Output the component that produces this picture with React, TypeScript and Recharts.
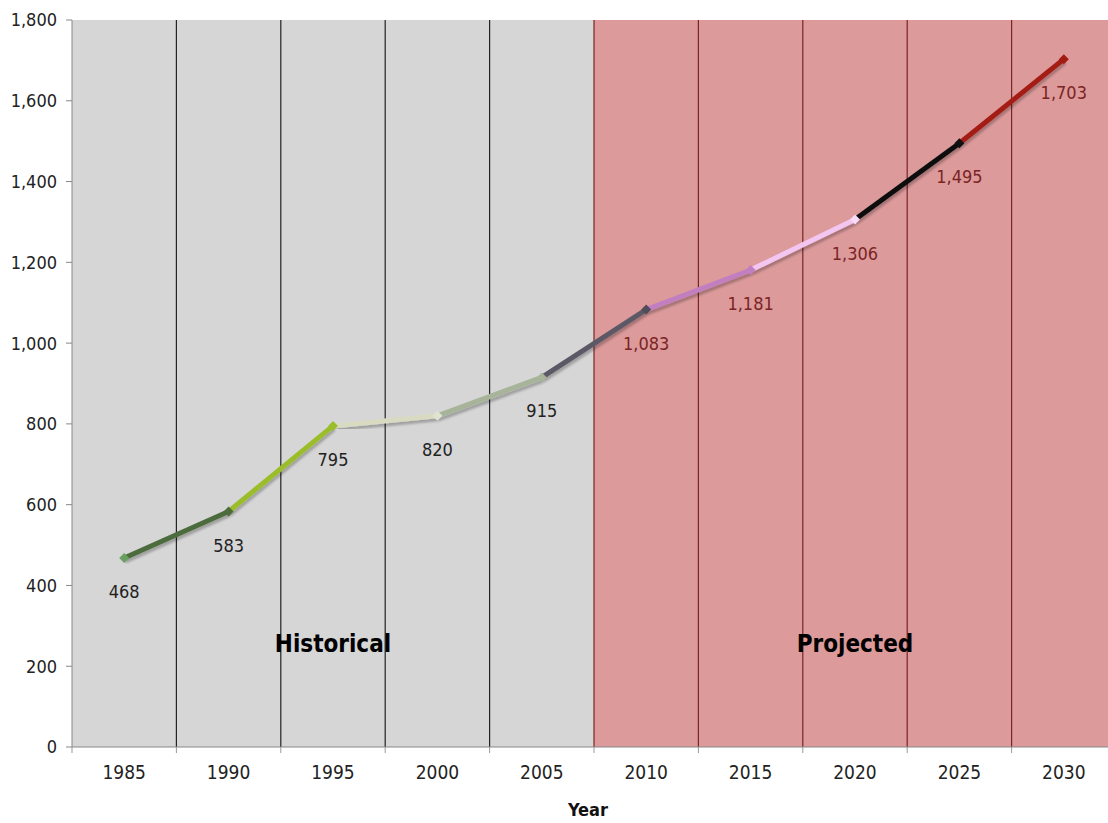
import {
  LineChart, Line, XAxis, YAxis, ReferenceArea, ReferenceLine, LabelList,
} from "recharts";

const YEARS = ["1985", "1990", "1995", "2000", "2005", "2010", "2015", "2020", "2025", "2030"];
const VALUES = [468, 583, 795, 820, 915, 1083, 1181, 1306, 1495, 1703];
const Y_TICKS = [0, 200, 400, 600, 800, 1000, 1200, 1400, 1600, 1800];
const HISTORICAL = ["1985", "2005"];
const PROJECTED = ["2010", "2030"];

// one colour per segment (segment i joins point i and i+1)
const SEGMENT_COLORS = ["#4d6c3c", "#9bbd2c", "#d8dbc2", "#a7b49a", "#5b5966", "#c27fc0", "#f3c6f1", "#111111", "#a31c12"];
const MARKER_COLORS = ["#69a060", "#4d6c3c", "#9bbd2c", "#e0e3cd", "#a7b49a", "#4f4d59", "#c27fc0", "#f8dbf6", "#111111", "#a31c12"];

const FONT = "'DejaVu Sans Condensed', 'DejaVu Sans', sans-serif";
const GREY_BG = "#d6d6d6";
const PINK_BG = "#dc9a9b";
const DARK_RED = "#7a2424";

const data = YEARS.map((year, i) => {
  const row: Record<string, number | string | null> = { year, value: VALUES[i] };
  SEGMENT_COLORS.forEach((_, s) => {
    row[`s${s}`] = i === s || i === s + 1 ? VALUES[i] : null;
  });
  return row;
});

const fmt = (v: number) => v.toLocaleString("en-US");

function XTick(props: any) {
  const { x, y, payload } = props;
  const off = payload.offset ?? 0;
  const top = y - 8;
  return (
    <g>
      <line x1={x - off} x2={x - off} y1={top} y2={top + 6} stroke="#999" />
      <text x={x} y={y + 24} textAnchor="middle" fontSize={19} fill="#222" fontFamily={FONT}>
        {payload.value}
      </text>
    </g>
  );
}

function Diamond(props: any) {
  const { cx, cy, index } = props;
  if (cx == null || cy == null) return <g key={`d${index}`} />;
  const r = 5;
  return (
    <polygon
      key={`d${index}`}
      points={`${cx},${cy - r} ${cx + r},${cy} ${cx},${cy + r} ${cx - r},${cy}`}
      fill={MARKER_COLORS[index]}
    />
  );
}

function ValueLabel(props: any) {
  const { x, y, value, index } = props;
  return (
    <text x={x} y={y + 40} textAnchor="middle" fontSize={18} fontFamily={FONT} fill={index < 5 ? "#222" : DARK_RED}>
      {fmt(value)}
    </text>
  );
}

export default function App() {
  return (
    <div style={{ position: "absolute", left: 0, top: 0, width: 1108, height: 823, overflow: "hidden", background: "#fff" }}>
      <LineChart width={1116} height={823} data={data} margin={{ top: 20, right: 0, bottom: 0, left: 0 }}>
        <defs>
          <filter id="lineShadow" x="-10%" y="-10%" width="120%" height="140%">
            <feDropShadow dx="1" dy="3" stdDeviation="1" floodColor="#000" floodOpacity="0.25" />
          </filter>
        </defs>
        <XAxis
          dataKey="year"
          scale="band"
          height={76}
          tick={<XTick />}
          tickLine={false}
          axisLine={{ stroke: "#888" }}
          interval={0}
          label={{ value: "Year", position: "insideBottom", offset: 7, dx: -6, fontSize: 18, fontWeight: 700, fill: "#111", fontFamily: FONT }}
        />
        <YAxis
          width={72}
          domain={[0, 1800]}
          ticks={Y_TICKS}
          tickFormatter={fmt}
          tick={{ fontSize: 18, fill: "#222", fontFamily: FONT }}
          tickSize={6}
          tickMargin={9}
          tickLine={{ stroke: "#888" }}
          axisLine={{ stroke: "#888" }}
        />
        <ReferenceArea
          x1={HISTORICAL[0]} x2={HISTORICAL[1]} y1={0} y2={1800}
          fill={GREY_BG} fillOpacity={1} stroke="none"
          label={{ value: "Historical", position: "insideBottom", offset: 95, fontSize: 24, fontWeight: 700, fill: "#000", fontFamily: FONT }}
        />
        <ReferenceArea
          x1={PROJECTED[0]} x2={PROJECTED[1]} y1={0} y2={1800}
          fill={PINK_BG} fillOpacity={1} stroke="none"
          label={{ value: "Projected", position: "insideBottom", offset: 95, fontSize: 24, fontWeight: 700, fill: "#000", fontFamily: FONT }}
        />
        {YEARS.slice(1).map((y, i) => (
          <ReferenceLine key={y} x={y} position="start" stroke={i + 1 < 5 ? "#222" : DARK_RED} strokeWidth={1.2} />
        ))}
        {SEGMENT_COLORS.map((c, s) => (
          <Line
            key={s}
            dataKey={`s${s}`}
            stroke={c}
            strokeWidth={5}
            dot={false}
            activeDot={false}
            connectNulls={false}
            filter="url(#lineShadow)"
            isAnimationActive={false}
          />
        ))}
        <Line dataKey="value" stroke="none" dot={<Diamond />} activeDot={false} isAnimationActive={false}>
          <LabelList dataKey="value" content={<ValueLabel />} />
        </Line>
      </LineChart>
    </div>
  );
}
